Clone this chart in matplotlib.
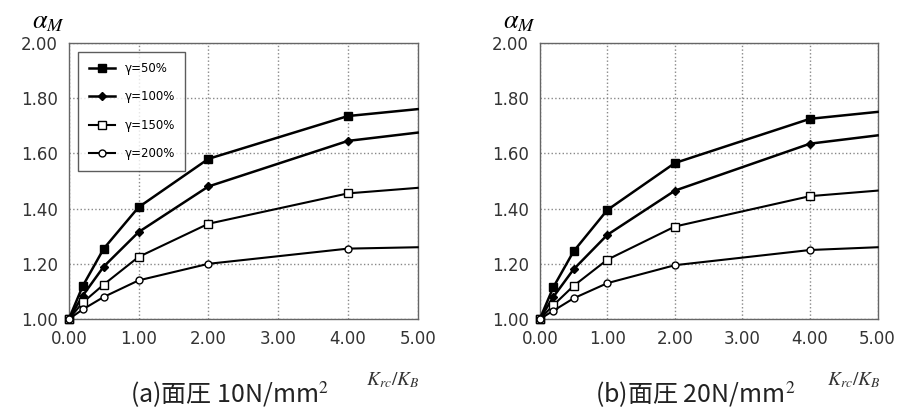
import matplotlib.pyplot as plt

plt.rcParams['font.family'] = ['DejaVu Sans']
plt.rcParams['mathtext.fontset'] = 'stix'

# データ
k_ratio = [0.0, 0.2, 0.5, 1.0, 2.0, 4.0, 5.0]
labels = ['γ=50%', 'γ=100%', 'γ=150%', 'γ=200%']

# (a) 面圧 10N/mm2
a_50 = [1.00, 1.12, 1.255, 1.405, 1.58, 1.735, 1.76]
a_100 = [1.00, 1.085, 1.19, 1.315, 1.48, 1.645, 1.675]
a_150 = [1.00, 1.06, 1.125, 1.225, 1.345, 1.455, 1.475]
a_200 = [1.00, 1.035, 1.08, 1.14, 1.20, 1.255, 1.26]

# (b) 面圧 20N/mm2
b_50 = [1.00, 1.115, 1.245, 1.395, 1.565, 1.725, 1.75]
b_100 = [1.00, 1.08, 1.18, 1.305, 1.465, 1.635, 1.665]
b_150 = [1.00, 1.05, 1.12, 1.215, 1.335, 1.445, 1.465]
b_200 = [1.00, 1.03, 1.075, 1.13, 1.195, 1.25, 1.26]

xticks = [0, 1, 2, 3, 4, 5]
yticks = [1.0, 1.2, 1.4, 1.6, 1.8, 2.0]

styles = [
    dict(marker='s', ms=6, mfc='black', mec='black', lw=1.8),
    dict(marker='D', ms=4, mfc='black', mec='black', lw=1.8),
    dict(marker='s', ms=6, mfc='white', mec='black', lw=1.5),
    dict(marker='o', ms=5, mfc='white', mec='black', lw=1.5),
]

fig = plt.figure(figsize=(9.18, 4.08), dpi=100)
ax1 = fig.add_axes([0.075, 0.218, 0.380, 0.677])
ax2 = fig.add_axes([0.588, 0.218, 0.368, 0.677])


def draw(ax, series, title, legend=False):
    for ys, lab, st in zip(series, labels, styles):
        ax.plot(k_ratio, ys, color='black', label=lab, markevery=list(range(6)),
                clip_on=False, zorder=3, **st)
    ax.set_xlim(0, 5)
    ax.set_ylim(1.0, 2.0)
    ax.set_xticks(xticks)
    ax.set_yticks(yticks)
    ax.set_xticklabels(['%.2f' % v for v in xticks])
    ax.set_yticklabels(['%.2f' % v for v in yticks])
    ax.tick_params(labelsize=12, length=0, pad=8, colors='#333333')
    ax.grid(True, linestyle=':', color='#888888', lw=1.0)
    for s in ax.spines.values():
        s.set_color('#666666')
        s.set_linewidth(1.0)
    ax.text(-0.06, 1.03, r'$\alpha_M$', transform=ax.transAxes, fontsize=19,
            ha='center', va='bottom')
    ax.text(0.93, -0.22, r'$K_{rc}/K_B$', transform=ax.transAxes, fontsize=14,
            ha='center', va='center', color='#333333')
    ax.text(0.46, -0.27, title, transform=ax.transAxes, fontsize=18,
            family=['Noto Sans CJK JP', 'DejaVu Sans'], ha='center', va='center',
            color='#222222')
    if legend:
        leg = ax.legend(loc='upper left', fontsize=8.5, frameon=True, fancybox=False,
                        edgecolor='#333333', handlelength=2.2, labelspacing=1.3,
                        borderpad=0.9, bbox_to_anchor=(0.01, 0.99))
        leg.get_frame().set_linewidth(1.0)


draw(ax1, [a_50, a_100, a_150, a_200], '(a)面圧 10N/mm$^2$', legend=True)
draw(ax2, [b_50, b_100, b_150, b_200], '(b)面圧 20N/mm$^2$')

plt.savefig('out.png', dpi=100)
